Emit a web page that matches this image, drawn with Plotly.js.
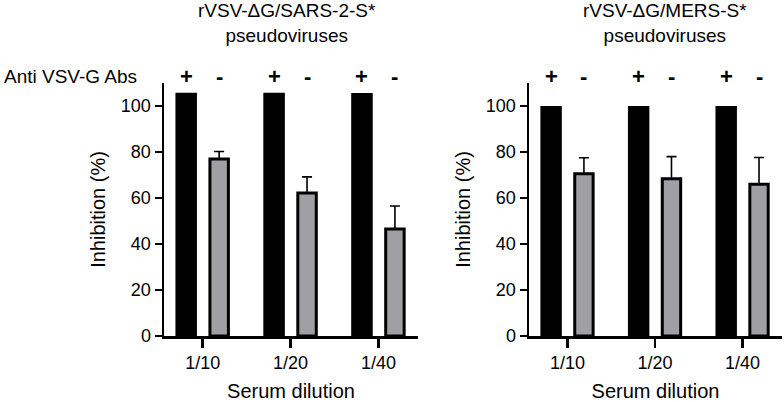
<!DOCTYPE html>
<html>
<head>
<meta charset="utf-8">
<script src="https://cdn.plot.ly/plotly-3.0.1.min.js"></script>
<style>
html,body{margin:0;padding:0;background:#fff;}
#chart{width:784px;height:402px;}
</style>
</head>
<body>
<div id="chart"></div>
<script>
// ---- data ----
const dilutions = ["1/10", "1/20", "1/40"];
const sarsWithAbs = [105.8, 105.8, 105.6];
const sarsWithoutAbs = [77.0, 62.2, 46.5];
const sarsWithoutAbsErr = [3.2, 7.0, 10.0];
const mersWithAbs = [100, 100, 100];
const mersWithoutAbs = [70.5, 68.4, 66.0];
const mersWithoutAbsErr = [7.0, 9.6, 11.6];
const absLabels = ["+", "-"];
const titles = ["rVSV-ΔG/SARS-2-S*<br>pseudoviruses", "rVSV-ΔG/MERS-S*<br>pseudoviruses"];

const FONT = "Liberation Sans, Arial, Helvetica, sans-serif";
const GRAY = "#a0a0a4";
const BW = 0.245, GW = 0.21, OFF = 0.1875;

function blackTrace(y, xa, ya) {
  return {type: "bar", x: dilutions, y: y, xaxis: xa, yaxis: ya,
    width: BW, offset: -OFF - BW / 2,
    marker: {color: "#000", line: {width: 0}}, showlegend: false, hoverinfo: "y"};
}
function grayTrace(y, err, xa, ya) {
  return {type: "bar", x: dilutions, y: y, xaxis: xa, yaxis: ya,
    width: GW, offset: OFF - GW / 2,
    marker: {color: GRAY, line: {color: "#000", width: 3}},
    error_y: {type: "data", symmetric: false, array: err, arrayminus: err.map(() => 0),
      color: "#000", thickness: 1.6, width: 5},
    showlegend: false, hoverinfo: "y"};
}

const data = [
  blackTrace(sarsWithAbs, "x", "y"),
  grayTrace(sarsWithoutAbs, sarsWithoutAbsErr, "x", "y"),
  blackTrace(mersWithAbs, "x2", "y2"),
  grayTrace(mersWithoutAbs, mersWithoutAbsErr, "x2", "y2")
];

function xAxis(domain, anchor) {
  return {domain: domain, anchor: anchor, type: "category", range: [-0.44, 2.45],
    showline: true, linewidth: 2.5, linecolor: "#000", ticks: "outside", ticklen: 9,
    tickwidth: 2.5, tickcolor: "#000", showgrid: false, zeroline: false, fixedrange: true,
    tickfont: {family: FONT, size: 18, color: "#000"},
    title: {text: "Serum dilution", font: {family: FONT, size: 20, color: "#000"}, standoff: 15}};
}
function yAxis(domain, anchor) {
  return {domain: domain, anchor: anchor, range: [0, 110], tickvals: [0, 20, 40, 60, 80, 100],
    showline: true, linewidth: 2.5, linecolor: "#000", ticks: "outside", ticklen: 7,
    tickwidth: 2.5, tickcolor: "#000", showgrid: false, zeroline: false, fixedrange: true,
    tickfont: {family: FONT, size: 18, color: "#000"},
    title: {text: "Inhibition (%)", font: {family: FONT, size: 20, color: "#000"}, standoff: 10}};
}

const yDom = [66 / 402, 319 / 402];
const annotations = [];
// +/- labels above bars
[["x", "y"], ["x2", "y2"]].forEach(([xa, ya]) => {
  dilutions.forEach((d, i) => {
    absLabels.forEach((lab, j) => {
      annotations.push({xref: xa, yref: "paper", x: i + (j === 0 ? -OFF : OFF), y: 326 / 402,
        text: "<b>" + lab + "</b>", showarrow: false, yanchor: "middle", xanchor: "center",
        font: {family: FONT, size: 22, color: "#000"}});
    });
  });
});
annotations.push({xref: "paper", yref: "paper", x: 2 / 784, y: 326 / 402, xanchor: "left", yanchor: "middle",
  text: "Anti VSV-G Abs", showarrow: false, font: {family: FONT, size: 19, color: "#000"}});
annotations.push({xref: "paper", yref: "paper", x: 287 / 784, y: 1.004, xanchor: "center", yanchor: "top",
  text: titles[0], showarrow: false, font: {family: FONT, size: 19, color: "#000"}});
annotations.push({xref: "paper", yref: "paper", x: 665 / 784, y: 1.004, xanchor: "center", yanchor: "top",
  text: titles[1], showarrow: false, font: {family: FONT, size: 19, color: "#000"}});

const layout = {
  width: 784, height: 402,
  margin: {l: 0, r: 0, t: 0, b: 0},
  paper_bgcolor: "#fff", plot_bgcolor: "#fff",
  barmode: "overlay",
  xaxis: xAxis([164 / 784, 418 / 784], "y"),
  yaxis: yAxis(yDom, "x"),
  xaxis2: xAxis([529 / 784, 782 / 784], "y2"),
  yaxis2: yAxis(yDom, "x2"),
  annotations: annotations,
  font: {family: FONT, color: "#000"}
};

Plotly.newPlot("chart", data, layout, {displayModeBar: false, staticPlot: true});
</script>
</body>
</html>
